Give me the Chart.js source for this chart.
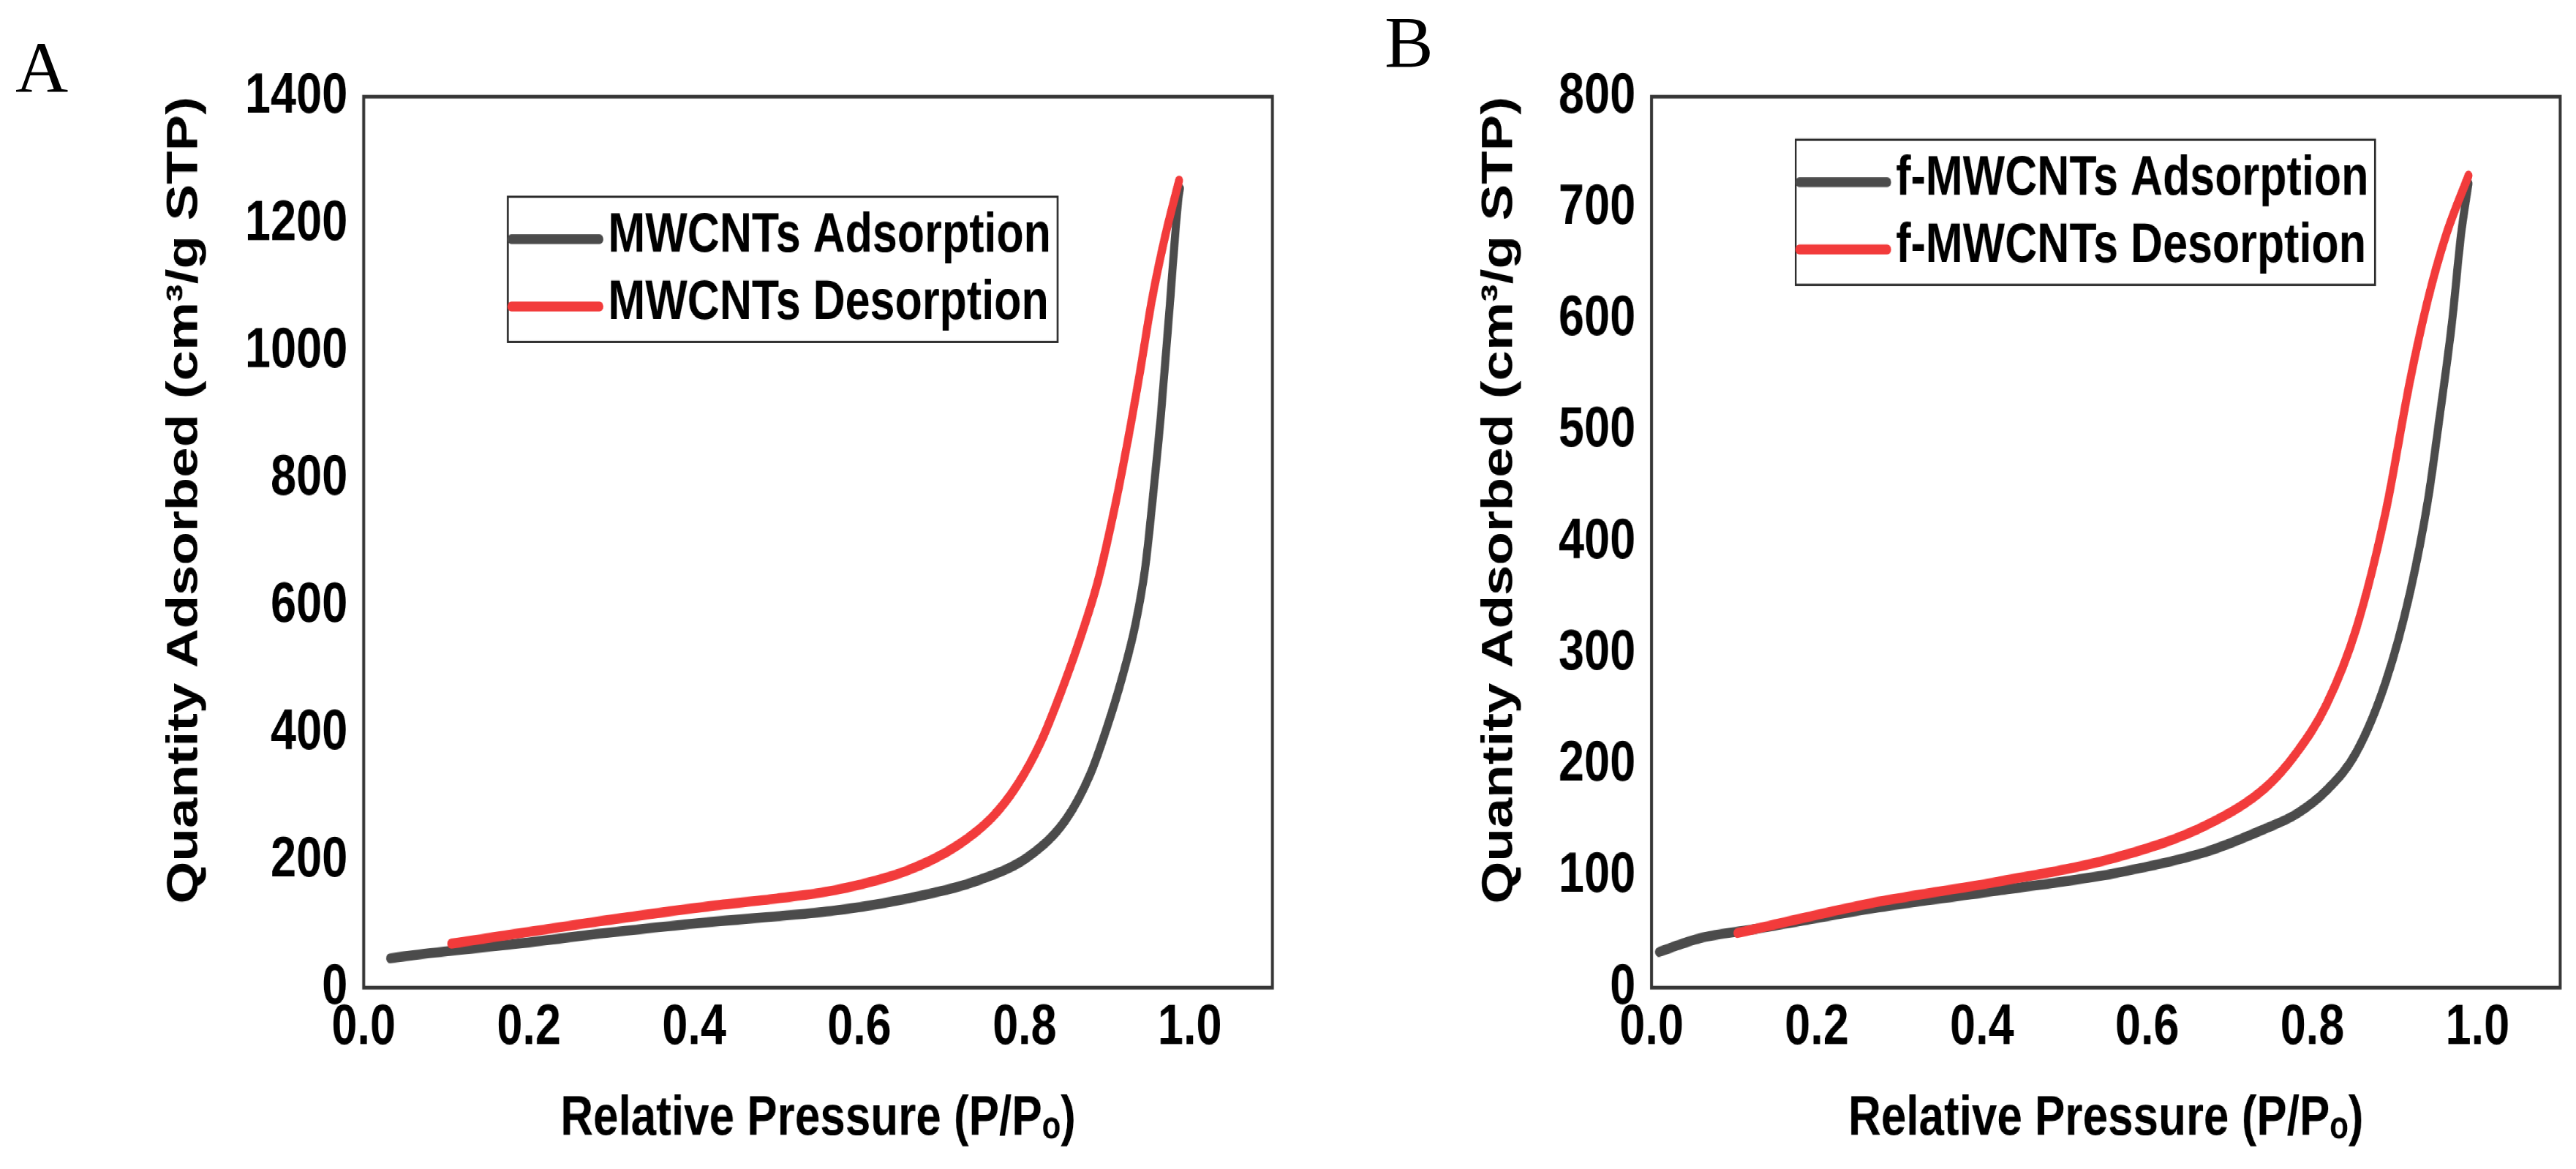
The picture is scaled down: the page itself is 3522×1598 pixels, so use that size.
<!DOCTYPE html>
<html>
<head>
<meta charset="utf-8">
<script src="https://cdn.jsdelivr.net/npm/chart.js@4.4.1/dist/chart.umd.min.js"></script>
<style>
  html, body { margin: 0; padding: 0; background: #fff; }
  body { width: 3522px; height: 1598px; overflow: hidden; position: relative; }
  #stage { position: absolute; left: 0; top: 0; width: 3522px; height: 1289px;
           transform-origin: 0 0; transform: scaleY(1.23972); }
  .pane { position: absolute; top: 0; height: 1289px; }
  .tag { position: absolute; font-family: 'Liberation Serif', 'Times New Roman', serif;
         font-size: 100px; line-height: 100px; color: #000; }
</style>
</head>
<body>
<div id="stage">
  <div class="pane" style="left:0;width:1760px"><canvas id="chartA" width="1760" height="1289"></canvas></div>
  <div class="pane" style="left:1760px;width:1762px"><canvas id="chartB" width="1762" height="1289"></canvas></div>
</div>
<div class="tag" style="left:21px;top:43px">A</div>
<div class="tag" style="left:1893px;top:8px">B</div>
<script>
// ---------------- data ----------------
const xTicks = [0, 0.2, 0.4, 0.6, 0.8, 1.0];
const yTicksA = [0, 200, 400, 600, 800, 1000, 1200, 1400];
const yTicksB = [0, 100, 200, 300, 400, 500, 600, 700, 800];

const labelsA = ['MWCNTs Adsorption', 'MWCNTs Desorption'];
const labelsB = ['f-MWCNTs Adsorption', 'f-MWCNTs Desorption'];
const xTitle = 'Relative Pressure (P/P\u2092)';
const yTitle = 'Quantity Adsorbed (cm\u00B3/g STP)';

// Panel A: MWCNTs
const mwAdsX = [0.032, 0.079, 0.129, 0.2, 0.274, 0.35, 0.419, 0.5, 0.57, 0.658, 0.747, 0.806, 0.85, 0.88, 0.9, 0.918, 0.934, 0.946, 0.956, 0.965, 0.975, 0.986, 0.988];
const mwAdsY = [46, 54, 61, 71, 83, 94, 103, 112, 121, 140, 170, 207, 264, 337, 410, 487, 570, 660, 780, 900, 1060, 1238, 1256];
const mwDesX = [0.106, 0.274, 0.419, 0.5, 0.57, 0.658, 0.717, 0.761, 0.791, 0.82, 0.844, 0.865, 0.889, 0.91, 0.925, 0.94, 0.954, 0.97, 0.987];
const mwDesY = [69, 102, 128, 140, 153, 184, 222, 268, 318, 387, 464, 540, 640, 760, 860, 970, 1080, 1180, 1268];

// Panel B: f-MWCNTs
const fAdsX = [0.009, 0.057, 0.129, 0.274, 0.419, 0.563, 0.672, 0.744, 0.781, 0.817, 0.853, 0.889, 0.918, 0.94, 0.954, 0.969, 0.98, 0.989];
const fAdsY = [32, 44, 53, 72, 87, 103, 122, 143, 156, 177, 211, 275, 354, 438, 512, 597, 676, 722];
const fDesX = [0.104, 0.274, 0.419, 0.563, 0.672, 0.744, 0.781, 0.817, 0.853, 0.889, 0.918, 0.94, 0.962, 0.989];
const fDesY = [49, 77, 95, 117, 146, 180, 211, 254, 322, 428, 544, 618, 676, 729];

// ---------------- styling ----------------
const S = 1598 / 1289;
const GRAY = '#4b4b4b';
const RED = '#f23b3b';
const FONT = "'Liberation Sans', Arial, Helvetica, sans-serif";

function pts(xs, ys) { return xs.map((x, i) => ({ x: x, y: ys[i] })); }

const framePlugin = {
  id: 'frame',
  afterDatasetsDraw(chart, args, o) {
    const { ctx, chartArea: a } = chart;
    ctx.save();
    ctx.strokeStyle = o.color;
    ctx.lineWidth = o.width;
    ctx.strokeRect(a.left, a.top, a.right - a.left, a.bottom - a.top);
    ctx.restore();
  }
};

const boxLegendPlugin = {
  id: 'boxLegend',
  afterDatasetsDraw(chart, args, o) {
    const { ctx, chartArea } = chart;
    ctx.save();
    ctx.font = 'bold ' + o.fontSize + 'px ' + FONT;
    const items = chart.data.datasets.map(d => ({ label: d.label, color: d.borderColor, width: d.borderWidth }));
    const textW = Math.max.apply(null, items.map(it => ctx.measureText(it.label).width));
    const x0 = chartArea.left + o.offsetX;
    const y0 = chartArea.top + o.offsetY;
    const w = o.textX + textW + o.padRight;
    ctx.fillStyle = '#fff';
    ctx.fillRect(x0, y0, w, o.height);
    ctx.lineWidth = o.borderWidth;
    ctx.strokeStyle = o.borderColor;
    ctx.strokeRect(x0, y0, w, o.height);
    items.forEach((it, i) => {
      const y = y0 + o.firstRow + i * o.rowGap;
      ctx.beginPath();
      ctx.lineWidth = it.width;
      ctx.strokeStyle = it.color;
      ctx.lineCap = 'round';
      ctx.moveTo(x0 + o.lineStart, y);
      ctx.lineTo(x0 + o.lineEnd, y);
      ctx.stroke();
      ctx.fillStyle = '#000';
      ctx.textAlign = 'left';
      ctx.textBaseline = 'middle';
      ctx.fillText(it.label, x0 + o.textX, y + o.textDy);
    });
    ctx.restore();
  }
};

function makeChart(id, cfg) {
  const line = { borderWidth: 11, pointRadius: 0, fill: false, cubicInterpolationMode: 'monotone', borderCapStyle: 'round', borderJoinStyle: 'round' };
  return new Chart(document.getElementById(id), {
    type: 'line',
    data: {
      datasets: [
        Object.assign({ label: cfg.labels[0], data: pts(cfg.adsX, cfg.adsY), borderColor: GRAY, backgroundColor: GRAY, order: 1 }, line),
        Object.assign({ label: cfg.labels[1], data: pts(cfg.desX, cfg.desY), borderColor: RED, backgroundColor: RED, order: 0 }, line)
      ]
    },
    options: {
      responsive: false,
      animation: false,
      devicePixelRatio: S,
      layout: { padding: { left: 0, top: 106.48, right: cfg.padRight, bottom: 10.04 } },
      scales: {
        x: {
          type: 'linear', min: 0, max: 1.1,
          afterBuildTicks: s => { s.ticks = xTicks.map(v => ({ value: v })); },
          afterFit: s => { s.height = 190; },
          grid: { display: false, drawTicks: false },
          border: { display: false },
          ticks: { padding: 6.6, color: '#000', autoSkip: false, maxRotation: 0,
                   font: { family: FONT, weight: 'bold', size: 63, lineHeight: 1.2 },
                   callback: v => Number(v).toFixed(1) },
          title: { display: true, text: xTitle, color: '#000',
                   font: { family: FONT, weight: 'bold', size: 62, lineHeight: 1.2 },
                   padding: { top: 0, bottom: 7.5 } }
        },
        y: {
          type: 'linear', min: 0, max: cfg.yMax,
          afterBuildTicks: s => { s.ticks = cfg.yTicks.map(v => ({ value: v })); },
          afterFit: s => { s.width = cfg.yWidth; },
          grid: { display: false, drawTicks: false },
          border: { display: false },
          ticks: { padding: 22, color: '#000', autoSkip: false,
                   font: { family: FONT, weight: 'bold', size: 63, lineHeight: 1.2 },
                   callback: v => String(v) },
          title: { display: true, text: yTitle, color: '#000', align: 'end',
                   font: { family: FONT, weight: 'bold', size: 60, lineHeight: 1.2 },
                   padding: { top: cfg.yTitlePad, bottom: 0 } }
        }
      },
      plugins: {
        legend: { display: false },
        tooltip: { enabled: false },
        frame: { color: '#353535', width: 4 },
        boxLegend: {
          offsetX: 197, offsetY: cfg.legendTop, height: 160,
          firstRow: 46.8, rowGap: 74.2, lineStart: 5, lineEnd: 125, textX: 137, padRight: 9,
          fontSize: 61, textDy: -3, borderWidth: 2.5, borderColor: '#2a2a2a'
        }
      }
    },
    plugins: [framePlugin, boxLegendPlugin]
  });
}

makeChart('chartA', {
  labels: labelsA, adsX: mwAdsX, adsY: mwAdsY, desX: mwDesX, desY: mwDesY,
  yMax: 1400, yTicks: yTicksA, yWidth: 497, padRight: 21, yTitlePad: 217, legendTop: 110.5
});
makeChart('chartB', {
  labels: labelsB, adsX: fAdsX, adsY: fAdsY, desX: fDesX, desY: fDesY,
  yMax: 800, yTicks: yTicksB, yWidth: 498, padRight: 22, yTitlePad: 255, legendTop: 47.6
});
</script>
</body>
</html>
